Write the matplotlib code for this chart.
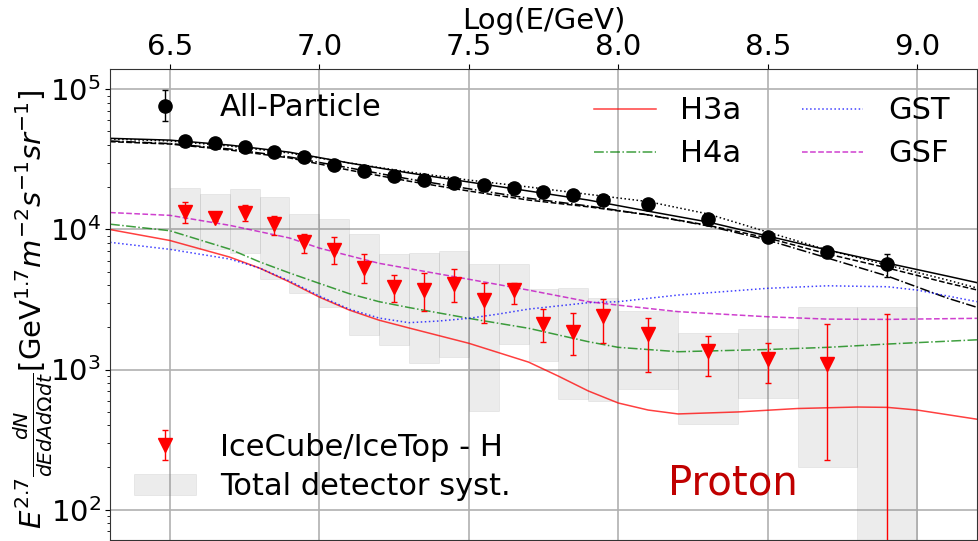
import matplotlib.pyplot as plt
import numpy as np

# all-particle spectrum
allp_logE = [6.55, 6.65, 6.75, 6.85, 6.95, 7.05, 7.15, 7.25, 7.35, 7.45,
             7.55, 7.65, 7.75, 7.85, 7.95, 8.1, 8.3, 8.5, 8.7, 8.9]
allp_flux = [42900, 41200, 38800, 35900, 32900, 29000, 26300, 24200, 22500, 21500,
             20800, 19700, 18400, 17700, 16200, 15200, 11900, 8830, 6900, 5640]
allp_err = [2000, 1900, 1800, 1600, 1500, 1300, 1200, 1100, 1000, 1000,
            1000, 900, 900, 800, 800, 800, 700, 600, 550, 1050]

# proton spectrum (IceCube/IceTop - H)
p_logE = allp_logE
p_flux = [13300, 12100, 13200, 10900, 8170, 7160, 5320, 3870, 3670, 4090,
          3110, 3680, 2120, 1850, 2400, 1790, 1350, 1190, 1090, 30]
p_hi = [15600, 12800, 14900, 12500, 9270, 8870, 6640, 4760, 4860, 5190,
        4120, 4120, 2720, 2520, 3170, 2320, 1740, 1540, 2110, 2490]
p_lo = [11200, 11500, 11400, 9090, 6820, 5640, 4120, 3020, 2620, 3050,
        2140, 2940, 1560, 1270, 1550, 955, 893, 801, 226, 1]

# detector systematics bands per bin
bin_lo = [6.5, 6.6, 6.7, 6.8, 6.9, 7.0, 7.1, 7.2, 7.3, 7.4,
          7.5, 7.6, 7.7, 7.8, 7.9, 8.0, 8.2, 8.4, 8.6, 8.8]
bin_hi = [6.6, 6.7, 6.8, 6.9, 7.0, 7.1, 7.2, 7.3, 7.4, 7.5,
          7.6, 7.7, 7.8, 7.9, 8.0, 8.2, 8.4, 8.6, 8.8, 9.0]
sys_top = [19700, 17800, 19300, 17100, 12900, 11800, 9270, 6640, 6750, 7010,
           5660, 5660, 3730, 3800, 3220, 2620, 1810, 1940, 2810, 2790]
sys_bot = [7240, 7240, 6750, 4430, 3500, 2780, 1760, 1500, 1120, 1220,
           508, 1510, 1150, 615, 593, 723, 406, 630, 200, 10]

# model curves: all-particle (black) and proton (coloured)
m_logE = [6.3, 6.5, 6.7, 6.9, 7.1, 7.3, 7.5, 7.7, 7.9, 8.1, 8.3, 8.5, 8.7, 8.9, 9.1, 9.2]
h3a_all = [44700, 43400, 40000, 35600, 29800, 25300, 21800, 18800, 16200, 13500,
           11300, 8970, 7130, 5750, 4650, 4170]
h4a_all = [42800, 41000, 37500, 32900, 27500, 22900, 19500, 16700, 14700, 12700,
           10600, 8390, 6250, 4650, 3240, 2780]
gst_all = [44200, 42800, 39400, 35100, 29800, 25700, 22500, 20100, 17800, 15800,
           12900, 9570, 7130, 5570, 4360, 3820]
gsf_all = [42300, 40700, 36900, 32400, 26500, 22100, 18800, 16200, 14500, 12700,
           10700, 8690, 6680, 5310, 4150, 3700]

h3a_logE = [6.3, 6.5, 6.7, 6.8, 6.9, 7.0, 7.1, 7.2, 7.3, 7.5, 7.7, 7.8, 7.9,
            8.0, 8.1, 8.2, 8.4, 8.6, 8.8, 8.9, 9.0, 9.2]
h3a_p = [9980, 8340, 6350, 5300, 4220, 3290, 2660, 2250, 1980, 1540, 1130, 897, 703,
         577, 514, 482, 498, 527, 540, 537, 514, 442]

gst_logE = [6.3, 6.5, 6.7, 6.8, 6.9, 7.0, 7.1, 7.2, 7.3, 7.4, 7.5, 7.6, 7.7,
            7.9, 8.0, 8.2, 8.5, 8.7, 8.9, 9.0, 9.2]
gst_p = [8090, 7210, 6150, 5300, 4290, 3350, 2700, 2330, 2160, 2220, 2320, 2490, 2700,
         3000, 3050, 3400, 3800, 3960, 3900, 3690, 3050]

h4a_logE = [6.3, 6.5, 6.7, 6.8, 6.9, 7.0, 7.1, 7.2, 7.3, 7.5, 7.7, 7.9, 8.0,
            8.2, 8.5, 8.7, 8.9, 9.2]
h4a_p = [10900, 9790, 7240, 5870, 4890, 4120, 3480, 3050, 2770, 2320, 1970, 1580, 1440,
         1340, 1390, 1440, 1520, 1630]

gsf_logE = [6.3, 6.5, 6.7, 6.9, 7.0, 7.2, 7.5, 7.7, 7.9, 8.0, 8.2, 8.5, 8.7, 8.9, 9.2]
gsf_p = [13200, 12600, 10700, 8690, 7360, 5730, 4410, 3690, 3050, 2880, 2590, 2380,
         2290, 2280, 2320]

fig = plt.figure(figsize=(9.79, 5.41), dpi=100)
ax = fig.add_axes([0.1124, 0.002, 0.8855, 0.8705])

# systematics boxes
widths = np.array(bin_hi) - np.array(bin_lo)
heights = np.array(sys_top) - np.array(sys_bot)
syst = ax.bar(bin_lo, heights, width=widths, bottom=sys_bot, align='edge',
              color='gray', alpha=0.15, edgecolor='gray', linewidth=0.6, zorder=1,
              label='Total detector syst.')

lw = 1.1
ax.plot(m_logE, h3a_all, color='k', linestyle='-', lw=lw, zorder=2)
ax.plot(m_logE, h4a_all, color='k', linestyle='-.', lw=lw, zorder=2)
ax.plot(m_logE, gst_all, color='k', linestyle=':', lw=lw, zorder=2)
ax.plot(m_logE, gsf_all, color='k', linestyle='--', lw=lw, zorder=2)

l1, = ax.plot(h3a_logE, h3a_p, color='r', linestyle='-', lw=lw, alpha=0.75, label='H3a', zorder=2)
l2, = ax.plot(h4a_logE, h4a_p, color='g', linestyle='-.', lw=lw, alpha=0.75, label='H4a', zorder=2)
l3, = ax.plot(gst_logE, gst_p, color='b', linestyle=':', lw=lw, alpha=0.75, label='GST', zorder=2)
l4, = ax.plot(gsf_logE, gsf_p, color='m', linestyle='--', lw=lw, alpha=0.75, label='GSF', zorder=2)

allp = ax.errorbar(allp_logE, allp_flux, yerr=allp_err, fmt='o', color='k', ms=9.5,
                   elinewidth=1, capsize=2, zorder=3, label='All-Particle')

p_flux_a = np.array(p_flux)
yerr = [p_flux_a - np.array(p_lo), np.array(p_hi) - p_flux_a]
prot = ax.errorbar(p_logE, p_flux, yerr=yerr, fmt='v', color='r', ms=10,
                   elinewidth=1, capsize=2, zorder=3, label='IceCube/IceTop - H')

ax.set_yscale('log')
ax.set_xlim(6.3, 9.2)
ax.set_ylim(60.8, 1.397e5)
ax.xaxis.tick_top()
ax.xaxis.set_label_position('top')
ax.set_xticks([6.5, 7.0, 7.5, 8.0, 8.5, 9.0])
ax.set_xticklabels(['6.5', '7.0', '7.5', '8.0', '8.5', '9.0'])
ax.tick_params(axis='x', labelsize=21, pad=2)
ax.tick_params(axis='y', labelsize=21, pad=3)
ax.grid(True, which='major', color='#b0b0b0', lw=1.2, zorder=0)
ax.set_axisbelow(True)
for s in ax.spines.values():
    s.set_color('#333333')

ax.set_xlabel('Log(E/GeV)', fontsize=21, labelpad=3)
ax.set_ylabel(r'$E^{2.7}\frac{dN}{dEdAd\Omega dt}$[GeV$^{1.7}m^{-2}s^{-1}sr^{-1}$]',
              fontsize=21)
ax.yaxis.set_label_coords(-0.064, 0.49)

leg1 = ax.legend([allp], ['All-Particle'], loc='upper left', frameon=False, fontsize=22,
                 borderaxespad=0.4)
ax.add_artist(leg1)
leg2 = ax.legend([l1, l2, l3, l4], ['H3a', 'H4a', 'GST', 'GSF'], loc='upper right',
                 ncol=2, frameon=False, fontsize=22, labelspacing=0.45, columnspacing=2.0,
                 borderaxespad=0.5)
ax.add_artist(leg2)
ax.legend([prot, syst], ['IceCube/IceTop - H', 'Total detector syst.'], loc='lower left',
          bbox_to_anchor=(0, 0.03), frameon=False, fontsize=22, labelspacing=0.35,
          borderaxespad=0.4)

ax.text(0.644, 0.12, 'Proton', transform=ax.transAxes, fontsize=29,
        color='#c00000', ha='left', va='center')

fig.savefig('out.png', dpi=100)
